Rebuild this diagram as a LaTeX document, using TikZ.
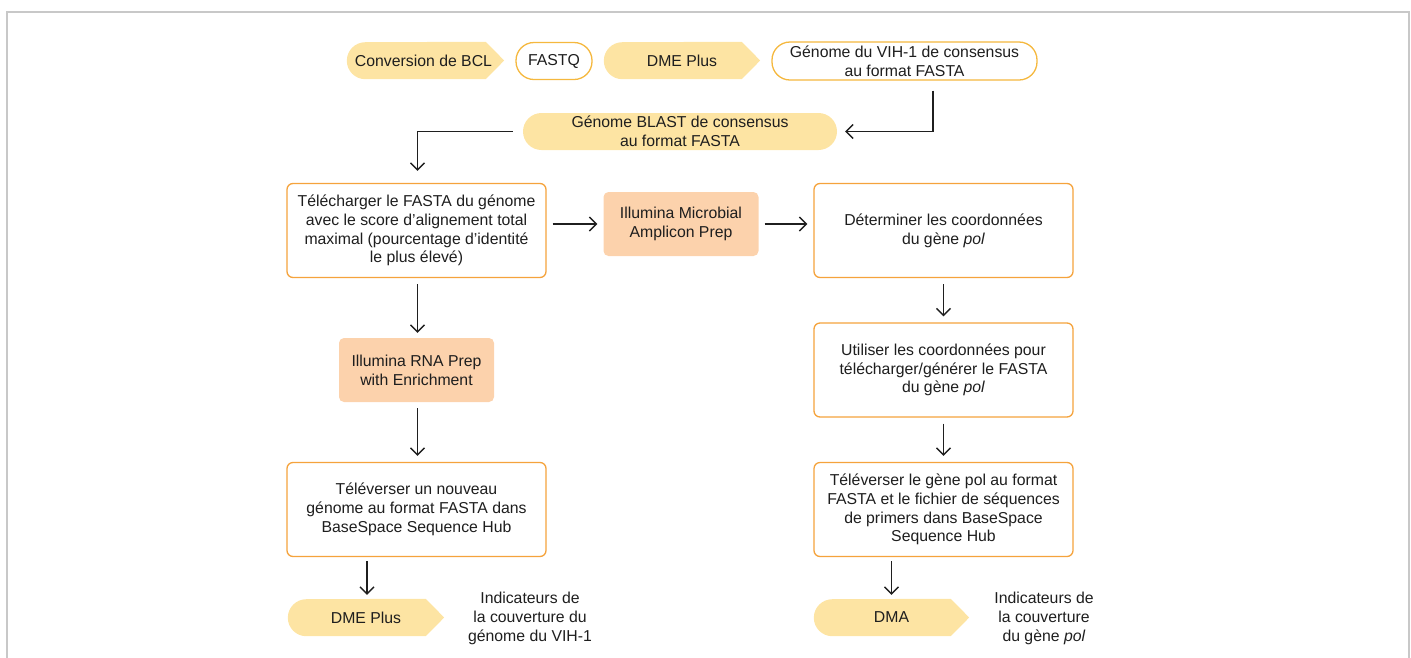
\documentclass[tikz,border=0pt]{standalone}
\usepackage{fontspec}
\setmainfont{Liberation Sans}
\usetikzlibrary{arrows.meta,calc}
\definecolor{ylw}{RGB}{253,228,163}
\definecolor{peach}{RGB}{252,210,172}
\definecolor{org}{RGB}{245,163,60}
\definecolor{gold}{RGB}{245,184,62}
\definecolor{txt}{RGB}{30,30,30}
\definecolor{framec}{RGB}{200,200,200}
\pgfdeclarelayer{bg}
\pgfsetlayers{bg,main}
\newcommand\chevbg[1]{\begin{pgfonlayer}{bg}\fill[ylw] ($(#1.north east)+(-18.5,0)$) -- (#1.east) -- ($(#1.south east)+(-18.5,0)$) -- ($(#1.south west)+(18.5,0)$) arc[start angle=270,end angle=90,radius=18.5pt] -- cycle;\end{pgfonlayer}}
\begin{document}
\begin{tikzpicture}[x=1pt,y=-1pt,
  font=\fontsize{15.8}{18.8}\selectfont, text=txt,
  box/.style={draw=org, line width=1.3pt, rounded corners=6pt, fill=white, minimum width=259pt, minimum height=94pt, align=center, inner sep=0pt},
  prep/.style={fill=peach, rounded corners=5pt, minimum width=155pt, minimum height=64pt, align=center, inner sep=0pt},
  pill/.style={draw=gold, line width=1.3pt, rounded corners=18pt, fill=white, minimum height=37pt, align=center, inner sep=0pt},
  ypill/.style={fill=ylw, rounded corners=18.5pt, minimum height=37pt, align=center, inner sep=0pt},
  chev/.style={minimum height=37pt, inner sep=0pt},
  lbl/.style={align=center, inner sep=0pt},
  arr/.style={-{Straight Barb[length=7pt,width=14pt]}, line width=1.4pt, draw=black!88}]
\useasboundingbox (0,0) rectangle (1411,657);
\draw[framec, line width=2pt] (7,11.5) rectangle (1408.5,720);

% top row
\node[chev, minimum width=157pt] (bcl) at (425.5,60.5) {\hspace*{-4pt}Conversion de BCL};
\chevbg{bcl}
\node[pill, minimum width=76pt] (fastq) at (554,61) {FASTQ};
\node[chev, minimum width=156pt] (dme1) at (682,60.5) {DME Plus};
\chevbg{dme1}
\node[pill, minimum width=265pt, minimum height=38pt] (vih) at (904.5,61) {G\'enome du VIH-1 de consensus\\au format FASTA};

\node[ypill, minimum width=314pt] (blast) at (680,131.5) {G\'enome BLAST de consensus\\au format FASTA};

% left column
\node[box] (box1) at (416.5,230.5) {T\'el\'echarger le FASTA du g\'enome\\avec le score d'alignement total\\maximal (pourcentage d'identit\'e\\le plus \'elev\'e)};
\node[prep] (micro) at (681,224) {Illumina Microbial\\Amplicon Prep};
\node[box] (det) at (943.5,230.5) {D\'eterminer les coordonn\'ees\\du g\`ene \textit{pol}};
\node[prep] (rna) at (416.5,370) {Illumina RNA Prep\\with Enrichment};
\node[box] (box3) at (416.5,509.5) {T\'el\'everser un nouveau\\g\'enome au format FASTA dans\\BaseSpace Sequence Hub};
\node[box] (util) at (943.5,370) {Utiliser les coordonn\'ees pour\\t\'el\'echarger/g\'en\'erer le FASTA\\du g\`ene \textit{pol}};
\node[box] (up2) at (943.5,509.5) {T\'el\'everser le g\`ene pol au format\\FASTA et le fichier de s\'equences\\de primers dans BaseSpace\\Sequence Hub};

\node[chev, minimum width=156pt] (dme2) at (366,617.5) {DME Plus};
\chevbg{dme2}
\node[chev, minimum width=155pt] (dma) at (891.5,617.5) {DMA};
\chevbg{dma}
\node[lbl] (ind1) at (530,618.5) {Indicateurs de\\la couverture du\\g\'enome du VIH-1};
\node[lbl] (ind2) at (1044,618.5) {Indicateurs de\\la couverture\\du g\`ene \textit{pol}};

% connectors
\draw[arr] ($(vih.south)+(28.5,10)$) |- ($(blast.east)+(8,0)$);
\draw[arr] ($(blast.west)+(-10,0)$) -| ($(box1.north)+(1,-12)$);
\draw[arr] ($(box1.east|-micro.west)+(6,0)$) -- ($(micro.west)+(-6,0)$);
\draw[arr] ($(micro.east)+(6,0)$) -- ($(det.west|-micro.east)+(-6,0)$);
\draw[arr] ($(box1.south)+(1,6)$) -- ($(rna.north)+(1,-5)$);
\draw[arr] ($(rna.south)+(1,6)$) -- ($(box3.north)+(1,-6)$);
\draw[arr] ($(box3.south-|dme2.north)+(1,4)$) -- ($(dme2.north)+(1,-4)$);
\draw[arr] ($(det.south)+(0,6)$) -- ($(util.north)+(0,-6)$);
\draw[arr] ($(util.south)+(0,6)$) -- ($(up2.north)+(0,-6)$);
\draw[arr] ($(up2.south-|dma.north)+(0,4)$) -- ($(dma.north)+(0,-4)$);
\end{tikzpicture}
\end{document}
